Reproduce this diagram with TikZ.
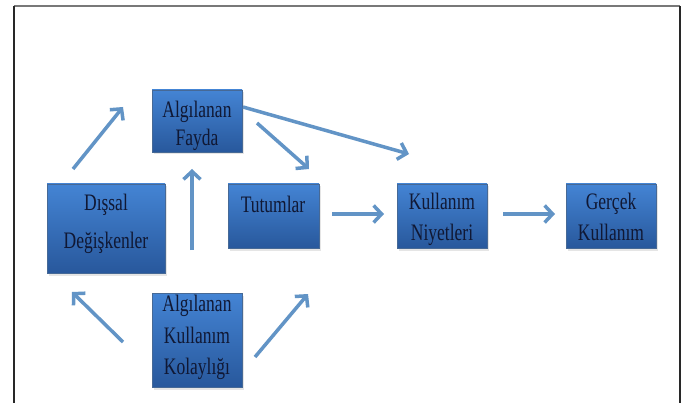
\documentclass[tikz,border=0pt]{standalone}
\usepackage{fontspec}
\setmainfont{Liberation Serif}
\usetikzlibrary{arrows.meta,shadows}
\definecolor{boxtop}{RGB}{68,132,212}
\definecolor{boxbot}{RGB}{40,88,156}
\definecolor{boxedge}{RGB}{70,105,150}
\definecolor{arr}{RGB}{98,148,198}
\definecolor{txtc}{RGB}{16,24,52}
\definecolor{frameside}{RGB}{40,40,40}
\definecolor{frametop}{RGB}{120,120,120}
\tikzset{
  box/.style={draw=boxedge, line width=0.6pt, top color=boxtop, bottom color=boxbot,
    inner sep=0pt, drop shadow={opacity=0.2, shadow xshift=1.5pt, shadow yshift=-2.5pt}},
  lbl/.style={anchor=base, inner sep=0pt, text=txtc, font=\fontsize{17.5}{19}\selectfont},
  arrowline/.style={draw=arr, line width=3.5pt, -{Straight Barb[length=8pt,width=17pt]}}
}
\newcommand{\tall}[1]{\scalebox{1}[1.35]{#1}}
\begin{document}
\begin{tikzpicture}[x=1pt,y=-1pt]
\fill[white] (0,0) rectangle (692,403);
\useasboundingbox (0,0) rectangle (692,403);
% frame
\draw[frametop, line width=1.5pt] (14,6) -- (680,6);
\draw[frameside, line width=1.6pt] (14,6) -- (14,403);
\draw[frameside, line width=1.6pt] (680,6) -- (680,403);
% boxes
\node[box, minimum width=90pt, minimum height=62pt] (fayda) at (197,121) {};
\node[box, minimum width=118pt, minimum height=89pt] (dissal) at (106,228.5) {};
\node[box, minimum width=91pt, minimum height=64pt] (tutum) at (273.5,216) {};
\node[box, minimum width=90pt, minimum height=64pt] (niyet) at (442,216) {};
\node[box, minimum width=90pt, minimum height=64pt] (gercek) at (611,216) {};
\node[box, minimum width=90pt, minimum height=94pt] (kolay) at (197,340) {};
% labels
\node[lbl] (fayda1) at (197,118) {\tall{Algılanan}};
\node[lbl] (fayda2) at (197,146) {\tall{Fayda}};
\node[lbl] (dissal1) at (106,211) {\tall{Dışsal}};
\node[lbl] (dissal2) at (106,248) {\tall{Değişkenler}};
\node[lbl] (tutum1) at (273,212) {\tall{Tutumlar}};
\node[lbl] (niyet1) at (442,209) {\tall{Kullanım}};
\node[lbl] (niyet2) at (442,240) {\tall{Niyetleri}};
\node[lbl] (gercek1) at (611,209) {\tall{Gerçek}};
\node[lbl] (gercek2) at (611,240) {\tall{Kullanım}};
\node[lbl] (kolay1) at (197,311) {\tall{Algılanan}};
\node[lbl] (kolay2) at (197,343) {\tall{Kullanım}};
\node[lbl] (kolay3) at (197,374) {\tall{Kolaylığı}};
% arrow end points
\coordinate (a1s) at (73,169);   \coordinate (a1e) at (123,107);
\coordinate (a2s) at (192,250);  \coordinate (a2e) at (192,169);
\coordinate (a3s) at (257,123);  \coordinate (a3e) at (309,169);
\coordinate (a4s) at (243,107);  \coordinate (a4e) at (409,154);
\coordinate (a5s) at (332,214);  \coordinate (a5e) at (384,214);
\coordinate (a6s) at (503,214);  \coordinate (a6e) at (555,214);
\coordinate (a7s) at (123,342);  \coordinate (a7e) at (72,292);
\coordinate (a8s) at (255,357);  \coordinate (a8e) at (308,294);
% arrows
\draw[arrowline] (a1s) -- (a1e);
\draw[arrowline] (a2s) -- (a2e);
\draw[arrowline] (a3s) -- (a3e);
\draw[arrowline] (a4s) -- (a4e);
\draw[arrowline] (a5s) -- (a5e);
\draw[arrowline] (a6s) -- (a6e);
\draw[arrowline] (a7s) -- (a7e);
\draw[arrowline] (a8s) -- (a8e);
\end{tikzpicture}
\end{document}
